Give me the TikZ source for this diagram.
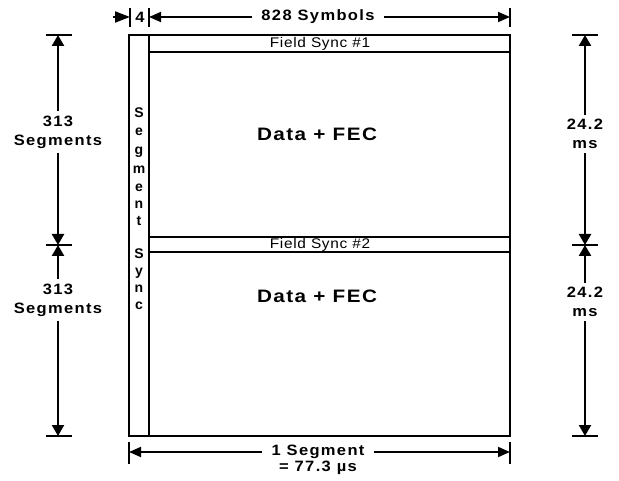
\documentclass[tikz,border=0pt]{standalone}
\usepackage{fontspec}
\setmainfont{Liberation Sans}
\newfontfamily\lblsans[LetterSpace=9, FakeStretch=1.1]{Liberation Sans}
\newfontfamily\bigsans[LetterSpace=8, FakeStretch=1.15]{Liberation Sans}
\newfontfamily\syncsans[LetterSpace=5, FakeStretch=1.1]{Liberation Sans}
\usetikzlibrary{arrows.meta,positioning}
\tikzstyle{frm}     = [line width=1.1pt]
\tikzstyle{tickln}  = [line width=1.1pt]
\tikzstyle{vdim}    = [line width=2.4pt, -{Triangle[length=11pt,width=12pt]}]
\tikzstyle{hdim}    = [line width=1.8pt, -{Triangle[length=12pt,width=10pt]}]
\tikzstyle{stubdim} = [line width=1.8pt, -{Triangle[length=15pt,width=11pt]}]
\tikzstyle{dlbl}    = [fill=white, align=center, inner sep=4pt,
                       font=\lblsans\bfseries\fontsize{15}{19}\selectfont]
\tikzstyle{bigtxt}  = [font=\bigsans\bfseries\fontsize{18}{20}\selectfont]
\tikzstyle{synctxt} = [inner sep=0pt, font=\syncsans\fontsize{14}{15}\selectfont]
\tikzstyle{vlet}    = [anchor=base, inner sep=0pt, font=\bfseries\fontsize{14}{15}\selectfont]
\begin{document}
\begin{tikzpicture}[x=1pt, y=-1pt]
  \useasboundingbox (0,0) rectangle (619,481);

  % frame and bands
  \draw[frm] (129,35) rectangle (510,436);
  \draw[frm] (149,35) -- (149,436);
  \draw[frm] (149,52) -- (510,52);
  \draw[frm] (149,237) -- (510,237);
  \draw[frm] (149,252) -- (510,252);

  \node[synctxt] (fs1) at (320,44) {Field Sync \#1};
  \node[synctxt] (fs2) at (320,245) {Field Sync \#2};
  \node[bigtxt] (df1) at (317,134) {Data + FEC};
  \node[bigtxt] (df2) at (317,296) {Data + FEC};

  % segment sync column
  \foreach \ch/\yy [count=\i] in {S/118, e/136, g/155, m/174, e/192, n/209, t/226,
                                  S/259, y/276, n/293, c/310}
    \node[vlet] (ss\i) at (139,\yy) {\ch};

  % top dimension
  \coordinate (tk0) at (130,17);
  \coordinate (tk1) at (149,17);
  \coordinate (tk2) at (510,17);
  \coordinate (st4) at (113,17);
  \draw[tickln] (130,8) -- (130,27);
  \draw[tickln] (149,8) -- (149,27);
  \draw[tickln] (510,8) -- (510,27);
  \draw[stubdim] (st4) -- (tk0);
  \node[dlbl, inner sep=0pt] (four) at (140,17) {4};
  \node[dlbl, inner xsep=9pt] (sym) at (318,17) {828 Symbols};
  \draw[hdim] (sym) -- (tk1);
  \draw[hdim] (sym) -- (tk2);

  % left dimension
  \coordinate (lt) at (58,35);
  \coordinate (lm) at (58,245);
  \coordinate (lb) at (58,436);
  \draw[tickln] (46,35) -- (72,35);
  \draw[tickln] (46,245) -- (72,245);
  \draw[tickln] (46,436) -- (72,436);
  \node[dlbl] (segA) at (58,132) {313\\Segments};
  \node[dlbl] (segB) at (58,300) {313\\Segments};
  \draw[vdim] (segA) -- (lt);
  \draw[vdim] (segA) -- (lm);
  \draw[vdim] (segB) -- (lm);
  \draw[vdim] (segB) -- (lb);

  % right dimension
  \coordinate (rt) at (585,35);
  \coordinate (rm) at (585,245);
  \coordinate (rb) at (585,436);
  \draw[tickln] (572,35) -- (598,35);
  \draw[tickln] (572,245) -- (598,245);
  \draw[tickln] (572,436) -- (598,436);
  \node[dlbl] (msA) at (585,134) {24.2\\ms};
  \node[dlbl] (msB) at (585,302) {24.2\\ms};
  \draw[vdim] (msA) -- (rt);
  \draw[vdim] (msA) -- (rm);
  \draw[vdim] (msB) -- (rm);
  \draw[vdim] (msB) -- (rb);

  % bottom dimension
  \coordinate (bl) at (129,452);
  \coordinate (br) at (510,452);
  \draw[tickln] (129,442) -- (129,464);
  \draw[tickln] (510,442) -- (510,464);
  \node[dlbl, inner xsep=9pt, inner ysep=1pt] (seg1) at (318,452) {1 Segment};
  \node[dlbl, inner ysep=1pt, below=0pt of seg1] (dur) {= 77.3 µs};
  \draw[hdim] (seg1) -- (bl);
  \draw[hdim] (seg1) -- (br);
\end{tikzpicture}
\end{document}
